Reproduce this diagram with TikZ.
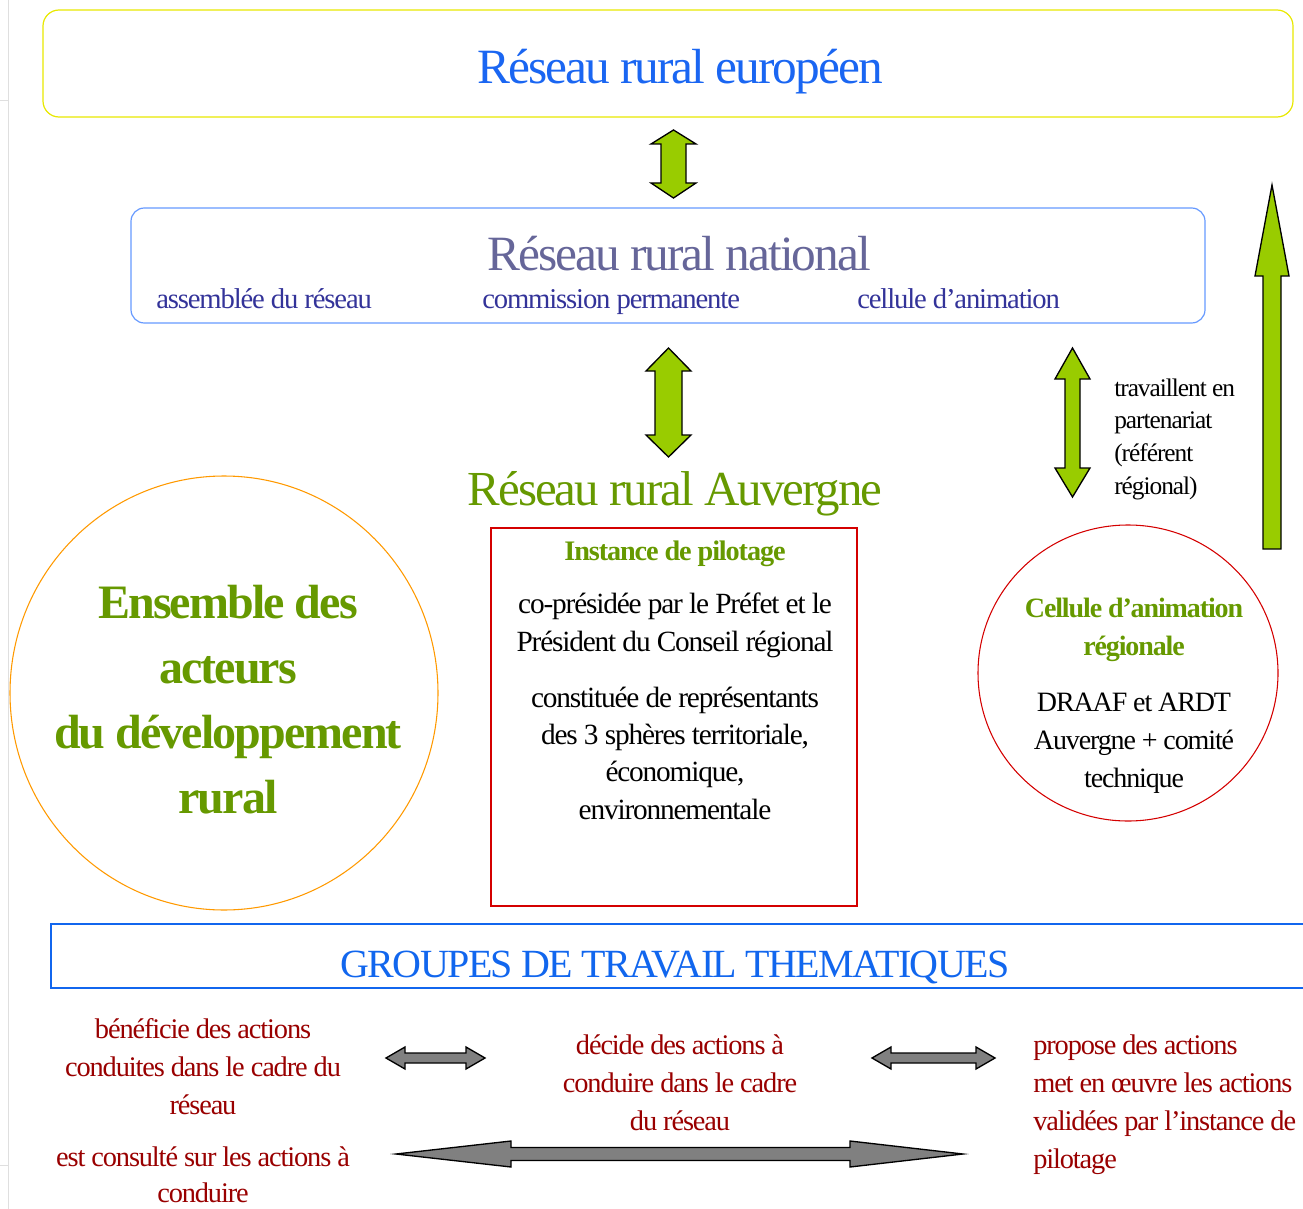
\documentclass[tikz,border=0pt]{standalone}
\usepackage{fontspec}
\setmainfont{Liberation Serif}[LetterSpace=-4]
\usepackage{tikz}

\definecolor{eurblue}{HTML}{1A66F2}
\definecolor{eurbox}{HTML}{E8E800}
\definecolor{natbox}{HTML}{6699FF}
\definecolor{natblue}{HTML}{666699}
\definecolor{subblue}{HTML}{333399}
\definecolor{leafgreen}{HTML}{99CC00}
\definecolor{textgreen}{HTML}{669900}
\definecolor{boxred}{HTML}{D40000}
\definecolor{circorange}{HTML}{FF9900}
\definecolor{groupblue}{HTML}{1166EE}
\definecolor{darkred}{HTML}{990000}
\definecolor{arrowgray}{HTML}{808080}

\tikzset{
  greenarrow/.style={draw=black, fill=leafgreen, line width=1pt, line join=miter},
  grayarrow/.style={draw=black, fill=arrowgray, line width=1pt, line join=miter},
  txt/.style={inner sep=0pt, anchor=base, align=center},
  subtxt/.style={txt, anchor=base west, text=subblue, font=\fontsize{21.5}{24}\selectfont},
  redtxt/.style={txt, text=darkred, font=\fontsize{21.3}{28.5}\selectfont},
  blacktxt/.style={txt, text=black, font=\fontsize{22}{28}\selectfont}
}

\begin{document}
\begin{tikzpicture}[x=0.75pt,y=-0.75pt]
    \useasboundingbox (0,0) rectangle (1303,1209);

    % Page edge
    \draw[gray!25] (8,0) -- (8,1209);
    \draw[gray!25] (0,100) -- (8,100);
    \draw[gray!25] (0,1165) -- (8,1165);

    % European network
    \draw[eurbox, line width=0.9pt, rounded corners=12] (43,10) rectangle (1293,117);
    \node[txt, text=eurblue, font=\fontsize{37}{40}\selectfont] (europe) at (680,84) {Réseau rural européen};

    \draw[greenarrow] (673.5,130) -- (696,144) -- (686,144) -- (686,183) -- (696,183)
      -- (673.5,198) -- (651,183) -- (661,183) -- (661,144) -- (651,144) -- cycle;

    % National network
    \draw[natbox, line width=0.9pt, rounded corners=10] (131,208) rectangle (1205,323);
    \node[txt, text=natblue, font=\fontsize{37}{40}\selectfont] (national) at (679,270) {Réseau rural national};
    \node[subtxt] (assemblee) at (156,308) {assemblée du réseau};
    \node[subtxt] (commission) at (482,308) {commission permanente};
    \node[subtxt] (cellnat) at (857,308) {cellule d’animation};

    \draw[greenarrow] (668.5,348) -- (691,371) -- (682,371) -- (682,435) -- (691,435)
      -- (668.5,457) -- (646,435) -- (655,435) -- (655,371) -- (646,371) -- cycle;

    % Regional network
    \node[txt, text=textgreen, font=\fontsize{36.7}{40}\selectfont] (auvergne) at (675,505) {Réseau rural Auvergne};

    % Steering body
    \draw[boxred, line width=0.8pt] (491,528) rectangle (857,906);
    \node[txt, text=textgreen, font=\bfseries\fontsize{21.2}{24}\selectfont] (instance) at (675,560) {Instance de pilotage};
    \node[blacktxt] (copres) at (675,651) {co-présidée par le Préfet et le\\Président du Conseil régional};
    \node[blacktxt] (constit) at (675,819) {constituée de représentants\\des 3 sphères territoriale,\\économique,\\environnementale};

    % Actors
    \draw[circorange, line width=0.8pt] (224,693) ellipse (214 and 217);
    \node[txt, text=textgreen, font=\bfseries\fontsize{36}{48.75}\selectfont] (acteurs) at (228,813) {Ensemble des\\acteurs\\du développement\\rural};

    % Regional animation cell
    \draw[boxred, line width=0.8pt] (1128,673) ellipse (150 and 148);
    \node[txt, text=textgreen, font=\bfseries\fontsize{21}{28.5}\selectfont] (cellreg) at (1134,655) {Cellule d’animation\\régionale};
    \node[txt, text=black, font=\fontsize{21}{28.5}\selectfont] (draaf) at (1134,787) {DRAAF et ARDT\\Auvergne + comité\\technique};

    \draw[greenarrow] (1072.5,348) -- (1090,379) -- (1080,379) -- (1080,468) -- (1090,468)
      -- (1072.5,497) -- (1055,468) -- (1065,468) -- (1065,379) -- (1055,379) -- cycle;
    \node[txt, anchor=base west, align=left, font=\fontsize{19}{24.4}\selectfont] (partenariat) at (1114,494) {travaillent en\\partenariat\\(référent\\régional)};

    \draw[greenarrow] (1272,185) -- (1289,276) -- (1281,276) -- (1281,549) -- (1263,549)
      -- (1263,276) -- (1255,276) -- cycle;

    % Thematic working groups
    \draw[groupblue, line width=1pt] (1310,924) -- (51,924) -- (51,988) -- (1310,988);
    \node[txt, text=groupblue, font=\fontsize{30}{34}\selectfont] (groupes) at (675,977) {GROUPES DE TRAVAIL THEMATIQUES};

    \node[redtxt] (beneficie) at (203,1114) {bénéficie des actions\\conduites dans le cadre du\\réseau};
    \node[redtxt, font=\fontsize{21.3}{26.5}\selectfont] (consulte) at (203,1202) {est consulté sur les actions à\\conduire};
    \node[redtxt] (decide) at (680,1130) {décide des actions à\\conduire dans le cadre\\du réseau};
    \node[redtxt, anchor=base west, align=left] (propose) at (1033,1168) {propose des actions\\met en œuvre les actions\\validées par l’instance de\\pilotage};

    \draw[grayarrow] (386,1058) -- (405,1047) -- (405,1053) -- (466,1053) -- (466,1047)
      -- (485,1058) -- (466,1069) -- (466,1063) -- (405,1063) -- (405,1069) -- cycle;
    \draw[grayarrow] (872,1058) -- (891,1047) -- (891,1053) -- (976,1053) -- (976,1047)
      -- (995,1058) -- (976,1069) -- (976,1063) -- (891,1063) -- (891,1069) -- cycle;
    \draw[grayarrow] (396,1154) -- (511,1141) -- (511,1147.5) -- (850,1147.5) -- (850,1141)
      -- (963,1154) -- (850,1167) -- (850,1160.5) -- (511,1160.5) -- (511,1167) -- cycle;

\end{tikzpicture}
\end{document}
